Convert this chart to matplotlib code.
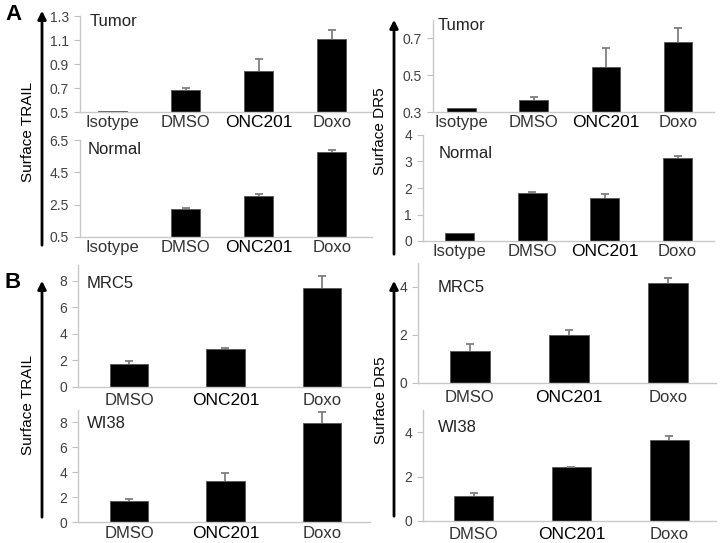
import matplotlib.pyplot as plt
import numpy as np
from matplotlib.patches import FancyArrowPatch

plt.rcParams['font.family'] = ['Liberation Sans', 'DejaVu Sans']

# data
cats_a = ['Isotype', 'DMSO', 'ONC201', 'Doxo']
cats_b = ['DMSO', 'ONC201', 'Doxo']

trail_tumor = [0.51, 0.68, 0.84, 1.11]
trail_tumor_err = [0, 0.02, 0.10, 0.07]
trail_normal = [0.4, 2.26, 3.05, 5.78]
trail_normal_err = [0, 0.05, 0.14, 0.10]
dr5_tumor = [0.32, 0.365, 0.547, 0.682]
dr5_tumor_err = [0, 0.018, 0.103, 0.076]
dr5_normal = [0.32, 1.83, 1.63, 3.12]
dr5_normal_err = [0, 0.02, 0.13, 0.09]

trail_mrc5 = [1.73, 2.86, 7.50]
trail_mrc5_err = [0.25, 0.07, 0.89]
trail_wi38 = [1.70, 3.30, 7.97]
trail_wi38_err = [0.14, 0.62, 0.88]
dr5_mrc5 = [1.33, 2.00, 4.18]
dr5_mrc5_err = [0.28, 0.21, 0.21]
dr5_wi38 = [1.11, 2.41, 3.65]
dr5_wi38_err = [0.13, 0.02, 0.20]

W, H = 722, 543
fig = plt.figure(figsize=(W / 100, H / 100), dpi=100)


def rect(left, top, right, bottom):
    return [left / W, 1 - bottom / H, (right - left) / W, (bottom - top) / H]


def ftext(x, y, s, **kw):
    fig.text(x / W, 1 - y / H, s, **kw)


def panel(box, cats, vals, errs, ylim, yticks, ticklabels, xlim, title, tpos, pad=3):
    ax = fig.add_axes(rect(*box))
    x = np.arange(len(cats))
    vals = np.array(vals)
    errs = np.array(errs)
    ax.bar(x, vals, width=0.4, color='black', edgecolor='#555555', linewidth=0.6)
    m = errs > 0
    eb = ax.errorbar(x[m], vals[m], yerr=[np.zeros(m.sum()), errs[m]], fmt='none',
                     ecolor='#7f7f7f', elinewidth=1.3, capsize=3, capthick=1.3)
    # only the upper cap, like the original (plus-only error bars)
    if len(eb[1]) == 2:
        eb[1][0].set_visible(False)
    ax.set_xlim(*xlim)
    ax.set_ylim(*ylim)
    ax.set_yticks(yticks)
    ax.set_yticklabels(ticklabels, fontsize=10, color='#404040')
    ax.set_xticks(x)
    ax.set_xticklabels(cats, fontsize=12, color='#333333')
    for lab in ax.get_xticklabels():
        if lab.get_text() == 'ONC201':
            lab.set_color('black')
            lab.set_fontsize(12.5)
    ax.tick_params(axis='x', length=0, pad=pad)
    ax.tick_params(axis='y', length=4, width=0.8, color='#bfbfbf', pad=4)
    for s in ['top', 'right']:
        ax.spines[s].set_visible(False)
    for s in ['left', 'bottom']:
        ax.spines[s].set_color('#c8c8c8')
        ax.spines[s].set_linewidth(1.0)
    ftext(tpos[0], tpos[1], title, fontsize=12, color='#222222', va='center')
    return ax


# panel A
panel((80, 16, 372, 112), cats_a, trail_tumor, trail_tumor_err, (0.5, 1.3),
      [0.5, 0.7, 0.9, 1.1, 1.3], ['0.5', '0.7', '0.9', '1.1', '1.3'],
      (-0.45, 3.55), 'Tumor', (90, 21), pad=2)
panel((80, 140, 372, 237), cats_a, trail_normal, trail_normal_err, (0.5, 6.5),
      [0.5, 2.5, 4.5, 6.5], ['0.5', '2.5', '4.5', '6.5'],
      (-0.45, 3.55), 'Normal', (88, 150), pad=2)
panel((433, 20, 714, 112), cats_a, dr5_tumor, dr5_tumor_err, (0.3, 0.8),
      [0.3, 0.5, 0.7], ['0.3', '0.5', '0.7'],
      (-0.4, 3.5), 'Tumor', (438, 25), pad=2)
panel((423, 135, 714, 241), cats_a, dr5_normal, dr5_normal_err, (0, 4),
      [0, 1, 2, 3, 4], ['0', '1', '2', '3', '4'],
      (-0.5, 3.5), 'Normal', (439, 154), pad=2)

# panel B
panel((78, 265, 370, 387), cats_b, trail_mrc5, trail_mrc5_err, (0, 9.2),
      [0, 2, 4, 6, 8], ['0', '2', '4', '6', '8'],
      (-0.53, 2.5), 'MRC5', (87, 284), pad=4)
panel((78, 410, 370, 522), cats_b, trail_wi38, trail_wi38_err, (0, 9.0),
      [0, 2, 4, 6, 8], ['0', '2', '4', '6', '8'],
      (-0.53, 2.5), 'WI38', (87, 423), pad=3)
panel((418, 263, 716, 383), cats_b, dr5_mrc5, dr5_mrc5_err, (0, 5),
      [0, 2, 4], ['0', '2', '4'],
      (-0.52, 2.48), 'MRC5', (438, 287), pad=5)
panel((423, 410, 716, 521), cats_b, dr5_wi38, dr5_wi38_err, (0, 5),
      [0, 2, 4], ['0', '2', '4'],
      (-0.52, 2.48), 'WI38', (438, 427), pad=4)

# arrows along the y labels
for (x, y0, y1) in [(42, 248, 8), (394, 257, 17), (42, 520, 278), (394, 519, 278)]:
    arr = FancyArrowPatch((x / W, 1 - y0 / H), (x / W, 1 - y1 / H),
                          transform=fig.transFigure, arrowstyle='-|>',
                          mutation_scale=12, linewidth=2, color='black')
    fig.add_artist(arr)

ftext(28, 132, 'Surface TRAIL', fontsize=11, rotation=90, ha='center', va='center')
ftext(380, 131, 'Surface DR5', fontsize=11, rotation=90, ha='center', va='center')
ftext(28, 405, 'Surface TRAIL', fontsize=11, rotation=90, ha='center', va='center')
ftext(381, 400, 'Surface DR5', fontsize=11, rotation=90, ha='center', va='center')

ftext(13, 15, 'A', fontsize=16, fontweight='bold', ha='center', va='center')
ftext(13, 282, 'B', fontsize=16, fontweight='bold', ha='center', va='center')

fig.savefig('out.png', dpi=100)
